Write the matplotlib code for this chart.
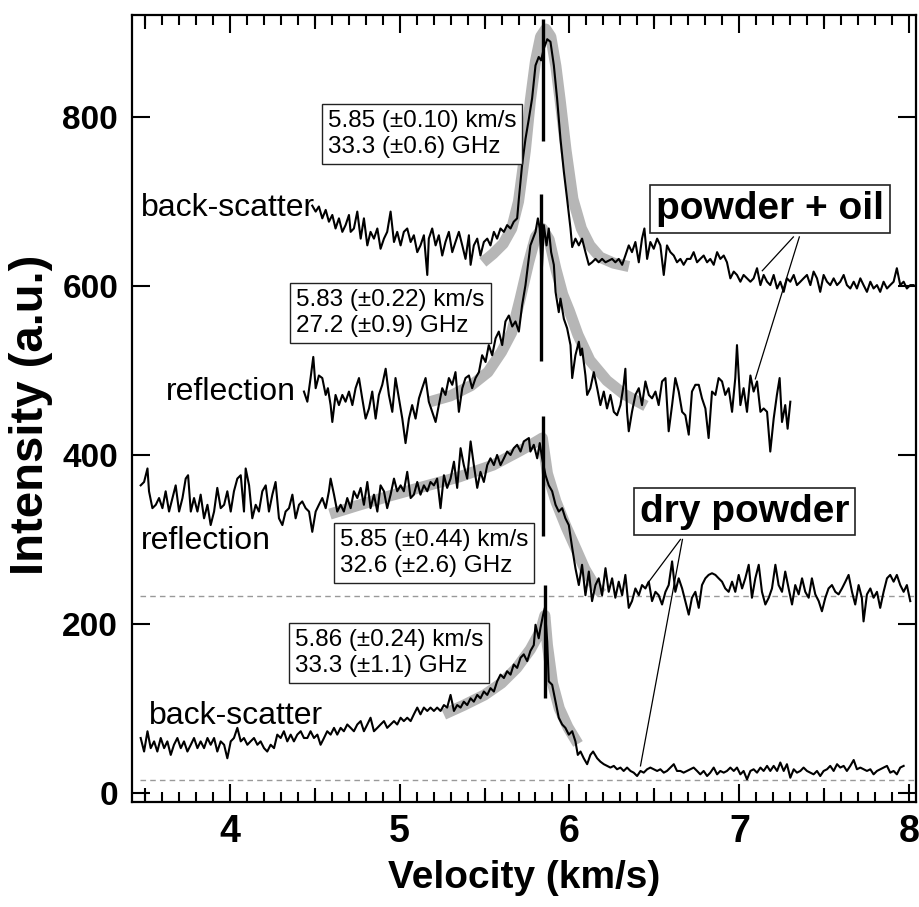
import matplotlib
matplotlib.use("Agg")
import matplotlib.pyplot as plt
from matplotlib.ticker import MultipleLocator

plt.rcParams['font.family'] = ['Liberation Sans', 'DejaVu Sans']

# powder + oil, back-scatter
v_oil_bs = [4.486, 4.506, 4.525, 4.545, 4.565, 4.584, 4.604, 4.623, 4.643, 4.663,
            4.682, 4.702, 4.712, 4.731, 4.751, 4.771, 4.790, 4.810, 4.829, 4.849,
            4.869, 4.888, 4.908, 4.927, 4.947, 4.967, 4.986, 5.006, 5.025, 5.045,
            5.065, 5.084, 5.104, 5.123, 5.143, 5.163, 5.172, 5.192, 5.212, 5.231,
            5.251, 5.270, 5.290, 5.310, 5.329, 5.349, 5.369, 5.388, 5.408, 5.418,
            5.437, 5.457, 5.476, 5.496, 5.516, 5.535, 5.555, 5.574, 5.594, 5.614,
            5.633, 5.653, 5.672, 5.692, 5.702, 5.721, 5.741, 5.761, 5.780, 5.800,
            5.819, 5.833, 5.849, 5.869, 5.888, 5.908, 5.927, 5.947, 5.967, 5.986,
            6.006, 6.016, 6.035, 6.055, 6.074, 6.094, 6.114, 6.133, 6.153, 6.172,
            6.192, 6.212, 6.231, 6.251, 6.270, 6.290, 6.310, 6.329, 6.349, 6.368,
            6.388, 6.408, 6.427, 6.441, 6.457, 6.476, 6.496, 6.516, 6.535, 6.555,
            6.574, 6.594, 6.614, 6.633, 6.653, 6.672, 6.692, 6.712, 6.731, 6.751,
            6.770, 6.790, 6.810, 6.829, 6.849, 6.869, 6.888, 6.908, 6.927, 6.947,
            6.967, 6.986, 7.006, 7.025, 7.045, 7.065, 7.084, 7.104, 7.124, 7.143,
            7.163, 7.182, 7.202, 7.222, 7.241, 7.261, 7.280, 7.300, 7.320, 7.339,
            7.359, 7.378, 7.398, 7.418, 7.437, 7.457, 7.476, 7.496, 7.516, 7.535,
            7.555, 7.575, 7.594, 7.614, 7.633, 7.653, 7.673, 7.692, 7.712, 7.731,
            7.751, 7.771, 7.790, 7.810, 7.829, 7.849, 7.869, 7.888, 7.908, 7.927,
            7.947, 7.967, 7.986, 8.006, 8.025]
i_oil_bs = [695, 688, 694, 680, 690, 676, 684, 668, 680, 664,
            672, 684, 664, 668, 688, 656, 680, 648, 664, 656,
            668, 644, 656, 664, 688, 652, 664, 648, 664, 668,
            652, 660, 640, 648, 660, 613, 656, 668, 648, 660,
            636, 652, 664, 640, 652, 664, 648, 632, 660, 625,
            648, 656, 636, 652, 656, 648, 664, 656, 668, 664,
            672, 668, 676, 680, 703, 743, 774, 798, 822, 861,
            871, 867, 881, 892, 889, 861, 822, 774, 735, 703,
            668, 646, 656, 648, 656, 640, 625, 628, 632, 628,
            632, 628, 630, 632, 628, 632, 625, 636, 648, 640,
            652, 628, 656, 668, 632, 652, 644, 656, 648, 613,
            648, 640, 636, 628, 632, 625, 632, 632, 640, 628,
            632, 636, 628, 632, 625, 640, 632, 636, 628, 609,
            617, 613, 605, 613, 609, 605, 609, 621, 601, 613,
            605, 601, 613, 597, 605, 593, 609, 605, 613, 601,
            605, 609, 613, 601, 617, 609, 593, 613, 605, 601,
            609, 601, 605, 613, 601, 597, 605, 597, 609, 601,
            593, 605, 597, 601, 593, 605, 597, 601, 605, 621,
            601, 605, 597, 601, 601]

# powder + oil, reflection
v_oil_rf = [4.437, 4.457, 4.476, 4.492, 4.506, 4.525, 4.545, 4.565, 4.578, 4.594,
            4.604, 4.623, 4.643, 4.663, 4.682, 4.702, 4.722, 4.741, 4.761, 4.780,
            4.800, 4.820, 4.839, 4.859, 4.878, 4.898, 4.918, 4.937, 4.957, 4.976,
            4.996, 5.016, 5.035, 5.055, 5.074, 5.094, 5.114, 5.133, 5.153, 5.172,
            5.192, 5.212, 5.231, 5.251, 5.270, 5.290, 5.310, 5.329, 5.349, 5.369,
            5.388, 5.408, 5.427, 5.447, 5.467, 5.486, 5.506, 5.525, 5.545, 5.565,
            5.584, 5.604, 5.623, 5.643, 5.663, 5.682, 5.702, 5.721, 5.741, 5.770,
            5.800, 5.814, 5.825, 5.837, 5.849, 5.865, 5.878, 5.892, 5.908, 5.918,
            5.937, 5.947, 5.967, 5.986, 6.006, 6.016, 6.035, 6.055, 6.065, 6.074,
            6.094, 6.104, 6.123, 6.143, 6.163, 6.182, 6.202, 6.221, 6.241, 6.261,
            6.280, 6.300, 6.319, 6.329, 6.339, 6.349, 6.368, 6.388, 6.408, 6.427,
            6.447, 6.467, 6.486, 6.506, 6.525, 6.545, 6.565, 6.584, 6.604, 6.623,
            6.643, 6.663, 6.682, 6.702, 6.721, 6.741, 6.761, 6.780, 6.800, 6.819,
            6.839, 6.859, 6.878, 6.898, 6.917, 6.937, 6.957, 6.976, 6.986, 7.006,
            7.025, 7.045, 7.065, 7.084, 7.104, 7.124, 7.143, 7.163, 7.182, 7.202,
            7.221, 7.237, 7.251, 7.270, 7.284, 7.300]
i_oil_rf = [475, 463, 491, 516, 479, 494, 491, 471, 479, 459,
            439, 471, 459, 471, 463, 475, 459, 479, 491, 467,
            443, 455, 475, 443, 471, 483, 502, 471, 451, 491,
            467, 443, 414, 443, 459, 443, 467, 479, 491, 463,
            451, 439, 459, 479, 471, 491, 483, 498, 451, 479,
            491, 494, 479, 491, 498, 518, 510, 530, 518, 538,
            546, 530, 558, 565, 552, 558, 546, 577, 601, 648,
            664, 680, 668, 617, 672, 648, 668, 640, 625, 593,
            569, 585, 561, 550, 530, 491, 518, 534, 518, 526,
            494, 471, 479, 498, 479, 459, 475, 455, 471, 451,
            447, 459, 483, 502, 451, 428, 451, 471, 479, 459,
            487, 471, 467, 475, 459, 487, 491, 428, 459, 491,
            475, 451, 447, 424, 475, 483, 483, 467, 455, 420,
            475, 471, 491, 487, 471, 479, 451, 491, 530, 459,
            479, 451, 494, 475, 487, 451, 455, 451, 404, 443,
            471, 491, 439, 459, 431, 463]

# dry powder, reflection
v_dry_rf = [3.476, 3.496, 3.516, 3.525, 3.545, 3.565, 3.584, 3.604, 3.623, 3.643,
            3.663, 3.682, 3.702, 3.722, 3.741, 3.755, 3.771, 3.790, 3.810, 3.829,
            3.849, 3.869, 3.888, 3.908, 3.927, 3.947, 3.967, 3.986, 4.006, 4.025,
            4.045, 4.065, 4.084, 4.094, 4.114, 4.133, 4.153, 4.172, 4.192, 4.212,
            4.231, 4.251, 4.270, 4.290, 4.310, 4.329, 4.349, 4.369, 4.388, 4.408,
            4.427, 4.447, 4.467, 4.486, 4.506, 4.525, 4.545, 4.565, 4.584, 4.594,
            4.614, 4.633, 4.653, 4.672, 4.692, 4.712, 4.731, 4.751, 4.771, 4.790,
            4.810, 4.829, 4.849, 4.869, 4.888, 4.908, 4.927, 4.947, 4.967, 4.986,
            5.006, 5.025, 5.045, 5.065, 5.084, 5.104, 5.123, 5.143, 5.163, 5.182,
            5.202, 5.221, 5.241, 5.261, 5.280, 5.300, 5.320, 5.339, 5.359, 5.378,
            5.398, 5.418, 5.437, 5.457, 5.476, 5.496, 5.516, 5.535, 5.555, 5.574,
            5.594, 5.614, 5.633, 5.653, 5.672, 5.692, 5.712, 5.731, 5.761, 5.770,
            5.790, 5.810, 5.825, 5.839, 5.859, 5.878, 5.898, 5.918, 5.937, 5.957,
            5.976, 5.996, 6.016, 6.035, 6.055, 6.074, 6.094, 6.114, 6.133, 6.153,
            6.172, 6.192, 6.212, 6.231, 6.251, 6.270, 6.290, 6.310, 6.329, 6.349,
            6.368, 6.388, 6.408, 6.427, 6.447, 6.467, 6.486, 6.506, 6.525, 6.545,
            6.565, 6.584, 6.604, 6.623, 6.643, 6.663, 6.682, 6.702, 6.721, 6.741,
            6.761, 6.780, 6.800, 6.819, 6.839, 6.859, 6.878, 6.898, 6.917, 6.937,
            6.957, 6.976, 6.996, 7.016, 7.035, 7.055, 7.074, 7.094, 7.114, 7.133,
            7.153, 7.173, 7.192, 7.212, 7.231, 7.251, 7.270, 7.290, 7.310, 7.329,
            7.349, 7.369, 7.388, 7.408, 7.427, 7.447, 7.467, 7.486, 7.506, 7.525,
            7.545, 7.565, 7.584, 7.604, 7.624, 7.643, 7.663, 7.682, 7.702, 7.721,
            7.731, 7.751, 7.771, 7.790, 7.810, 7.829, 7.849, 7.869, 7.888, 7.908,
            7.927, 7.947, 7.967, 7.986, 8.006]
i_dry_rf = [364, 368, 384, 357, 337, 341, 349, 337, 357, 333,
            349, 364, 333, 349, 372, 376, 333, 349, 333, 353,
            325, 341, 317, 333, 361, 337, 341, 357, 333, 357,
            372, 376, 333, 384, 364, 325, 341, 333, 357, 364,
            333, 353, 368, 325, 317, 333, 337, 353, 325, 341,
            345, 337, 333, 309, 333, 341, 349, 337, 357, 372,
            353, 333, 341, 333, 349, 337, 357, 349, 361, 341,
            368, 337, 353, 333, 364, 357, 337, 353, 372, 357,
            364, 357, 380, 349, 353, 368, 353, 364, 357, 368,
            364, 372, 337, 376, 361, 372, 392, 361, 408, 388,
            372, 416, 388, 361, 380, 368, 388, 396, 388, 400,
            388, 396, 404, 400, 408, 412, 404, 416, 420, 404,
            412, 396, 414, 396, 376, 364, 357, 341, 333, 337,
            325, 317, 290, 266, 246, 270, 234, 262, 227, 246,
            254, 234, 266, 238, 254, 231, 250, 234, 258, 219,
            227, 242, 234, 246, 242, 250, 227, 238, 234, 223,
            238, 246, 274, 238, 254, 242, 227, 211, 231, 238,
            219, 246, 254, 258, 260, 258, 254, 250, 242, 238,
            250, 238, 258, 242, 254, 270, 231, 254, 270, 238,
            223, 231, 242, 270, 246, 238, 262, 242, 223, 246,
            235, 254, 238, 231, 254, 235, 227, 215, 231, 242,
            246, 238, 235, 242, 250, 258, 238, 223, 246, 231,
            203, 235, 242, 231, 238, 219, 238, 254, 258, 250,
            258, 246, 238, 246, 227]

# dry powder, back-scatter
v_dry_bs = [3.476, 3.496, 3.516, 3.535, 3.555, 3.574, 3.594, 3.614, 3.633, 3.653,
            3.672, 3.692, 3.712, 3.731, 3.751, 3.771, 3.790, 3.810, 3.829, 3.849,
            3.869, 3.888, 3.908, 3.927, 3.947, 3.967, 3.986, 4.006, 4.025, 4.045,
            4.065, 4.084, 4.104, 4.123, 4.143, 4.163, 4.182, 4.202, 4.221, 4.241,
            4.261, 4.280, 4.300, 4.319, 4.339, 4.359, 4.378, 4.398, 4.418, 4.437,
            4.457, 4.476, 4.496, 4.516, 4.535, 4.555, 4.574, 4.594, 4.614, 4.633,
            4.653, 4.672, 4.692, 4.712, 4.731, 4.751, 4.771, 4.790, 4.810, 4.829,
            4.849, 4.869, 4.888, 4.908, 4.927, 4.947, 4.967, 4.986, 5.006, 5.025,
            5.045, 5.065, 5.084, 5.104, 5.123, 5.143, 5.163, 5.182, 5.202, 5.221,
            5.241, 5.261, 5.280, 5.300, 5.320, 5.339, 5.359, 5.378, 5.398, 5.418,
            5.437, 5.457, 5.476, 5.496, 5.516, 5.535, 5.555, 5.574, 5.594, 5.614,
            5.633, 5.653, 5.672, 5.692, 5.712, 5.731, 5.751, 5.770, 5.790, 5.800,
            5.819, 5.829, 5.845, 5.855, 5.869, 5.878, 5.898, 5.918, 5.937, 5.957,
            5.976, 5.996, 6.016, 6.035, 6.049, 6.065, 6.084, 6.104, 6.123, 6.139,
            6.163, 6.182, 6.202, 6.221, 6.241, 6.261, 6.280, 6.300, 6.319, 6.339,
            6.359, 6.378, 6.398, 6.418, 6.437, 6.457, 6.476, 6.496, 6.516, 6.535,
            6.555, 6.574, 6.594, 6.614, 6.633, 6.653, 6.672, 6.692, 6.712, 6.731,
            6.751, 6.770, 6.790, 6.810, 6.829, 6.849, 6.869, 6.888, 6.908, 6.927,
            6.947, 6.967, 6.986, 7.006, 7.025, 7.045, 7.065, 7.084, 7.104, 7.124,
            7.143, 7.163, 7.182, 7.202, 7.222, 7.241, 7.261, 7.280, 7.300, 7.320,
            7.339, 7.359, 7.378, 7.398, 7.418, 7.437, 7.457, 7.476, 7.496, 7.516,
            7.535, 7.555, 7.575, 7.594, 7.614, 7.633, 7.653, 7.673, 7.692, 7.712,
            7.731, 7.751, 7.771, 7.790, 7.810, 7.829, 7.849, 7.869, 7.888, 7.908,
            7.927, 7.947, 7.967]
i_dry_bs = [65, 49, 73, 53, 61, 49, 65, 53, 61, 45,
            57, 65, 53, 61, 49, 57, 65, 53, 61, 53,
            65, 57, 65, 49, 61, 57, 41, 61, 65, 77,
            61, 65, 57, 61, 65, 57, 61, 53, 49, 57,
            53, 69, 65, 73, 61, 69, 61, 69, 73, 65,
            65, 73, 65, 69, 57, 65, 73, 69, 77, 69,
            77, 73, 81, 77, 73, 81, 85, 73, 81, 89,
            73, 77, 81, 85, 77, 81, 85, 81, 89, 85,
            89, 85, 93, 101, 93, 101, 97, 101, 97, 101,
            97, 104, 101, 116, 97, 104, 101, 108, 104, 112,
            108, 116, 112, 120, 116, 124, 120, 132, 140, 136,
            144, 140, 152, 148, 160, 164, 156, 168, 175, 199,
            183, 195, 211, 219, 179, 132, 128, 108, 89, 81,
            77, 69, 73, 61, 45, 49, 41, 34, 45, 49,
            41, 37, 34, 32, 30, 32, 28, 30, 26, 30,
            26, 24, 20, 26, 24, 28, 30, 28, 26, 28,
            24, 26, 30, 34, 26, 26, 24, 26, 28, 30,
            26, 22, 26, 20, 24, 30, 22, 26, 24, 26,
            30, 26, 30, 22, 26, 16, 26, 28, 24, 30,
            26, 32, 26, 32, 26, 36, 26, 34, 18, 28,
            24, 26, 30, 26, 24, 22, 26, 20, 26, 28,
            32, 26, 34, 30, 32, 26, 32, 39, 28, 30,
            28, 26, 28, 22, 26, 28, 30, 32, 24, 26,
            22, 30, 32]

# fitted peak shapes (grey bands)
fit_v_oil_bs = [5.49, 5.55, 5.61, 5.66, 5.70, 5.74, 5.77, 5.80, 5.83, 5.86,
                5.89, 5.92, 5.945, 5.98, 6.02, 6.07, 6.12, 6.18, 6.26, 6.35]
fit_i_oil_bs = [628, 638, 650, 668, 700, 760, 820, 866, 895, 904,
                895, 860, 820, 760, 703, 668, 648, 634, 627, 623]
fit_v_oil_rf = [5.18, 5.30, 5.42, 5.52, 5.60, 5.66, 5.71, 5.76, 5.80, 5.84,
                5.88, 5.92, 5.96, 6.00, 6.05, 6.12, 6.22, 6.32, 6.45]
fit_i_oil_rf = [463, 470, 482, 498, 522, 545, 585, 628, 658, 668,
                655, 620, 590, 570, 542, 512, 488, 472, 458]
fit_v_dry_rf = [4.59, 4.75, 4.95, 5.15, 5.35, 5.55, 5.70, 5.79, 5.84, 5.87,
                5.92, 5.98, 6.04, 6.09, 6.14, 6.19]
fit_i_dry_rf = [330, 340, 352, 363, 374, 388, 404, 414, 420, 378,
                345, 315, 288, 265, 248, 236]
fit_v_dry_bs = [5.26, 5.38, 5.50, 5.60, 5.69, 5.77, 5.83, 5.855, 5.87, 5.90,
                5.94, 5.99, 6.05]
fit_i_dry_bs = [93, 104, 116, 130, 148, 170, 192, 210, 175, 130,
                100, 78, 58]

# peak markers: velocity, bottom, top
peak_v = [5.847, 5.835, 5.847, 5.856]
peak_lo = [772, 511, 304, 112]
peak_hi = [916, 709, 446, 246]

baselines = [233, 15]

fit_labels = ["5.85 (\u00b10.10) km/s\n33.3 (\u00b10.6) GHz",
              "5.83 (\u00b10.22) km/s\n27.2 (\u00b10.9) GHz",
              "5.85 (\u00b10.44) km/s\n32.6 (\u00b12.6) GHz",
              "5.86 (\u00b10.24) km/s\n33.3 (\u00b11.1) GHz"]
fit_label_pos = [(5.132, 780), (4.947, 568), (5.203, 284), (4.938, 166)]

trace_names = ["back-scatter", "reflection", "reflection", "back-scatter"]
trace_name_pos = [(3.476, 692), (3.624, 475), (3.476, 298), (3.524, 91)]

fig = plt.figure(figsize=(9.2, 9.07), dpi=100)
ax = fig.add_axes([0.1435, 0.1158, 0.8522, 0.8677])

for y0 in baselines:
    ax.plot([3.47, 8.04], [y0, y0], ls=(0, (4, 3)), color='#999999', lw=1.0, zorder=1)

grey = '#b6b6b6'
for fv, fi in [(fit_v_oil_bs, fit_i_oil_bs), (fit_v_oil_rf, fit_i_oil_rf),
               (fit_v_dry_rf, fit_i_dry_rf), (fit_v_dry_bs, fit_i_dry_bs)]:
    ax.plot(fv, fi, color=grey, lw=8, solid_capstyle='butt', solid_joinstyle='round', zorder=2)

for v, i in [(v_oil_bs, i_oil_bs), (v_oil_rf, i_oil_rf),
             (v_dry_rf, i_dry_rf), (v_dry_bs, i_dry_bs)]:
    ax.plot(v, i, color='black', lw=1.5, zorder=3)

ax.vlines(peak_v, peak_lo, peak_hi, color='black', lw=2.4, zorder=4)

for txt, (x, y) in zip(fit_labels, fit_label_pos):
    ax.text(x, y, txt, ha='center', va='center', multialignment='left',
            fontsize=17.5, linespacing=1.22, zorder=5,
            bbox=dict(boxstyle='square,pad=0.25', fc='white', ec='#222222', lw=1.0))

for txt, (x, y) in zip(trace_names, trace_name_pos):
    ax.text(x, y, txt, ha='left', va='center', fontsize=23, zorder=5)

# group labels with leader lines
ax.plot([7.318, 7.135], [658, 618], color='black', lw=0.9, zorder=4)
ax.plot([7.353, 7.094], [658, 490], color='black', lw=0.9, zorder=4)
ax.plot([6.653, 6.460], [300, 248], color='black', lw=0.9, zorder=4)
ax.plot([6.665, 6.418], [300, 32], color='black', lw=0.9, zorder=4)
ax.text(7.179, 691, "powder + oil", ha='center', va='center', fontsize=28,
        fontweight='bold', zorder=5,
        bbox=dict(boxstyle='square,pad=0.15', fc='white', ec='#222222', lw=1.2))
ax.text(7.029, 333, "dry powder", ha='center', va='center', fontsize=28,
        fontweight='bold', zorder=5,
        bbox=dict(boxstyle='square,pad=0.15', fc='white', ec='#222222', lw=1.2))

ax.set_xlim(3.425, 8.04)
ax.set_ylim(-10.7, 920.7)
ax.set_xticks([4, 5, 6, 7, 8])
ax.xaxis.set_minor_locator(MultipleLocator(0.1))
ax.set_yticks([0, 200, 400, 600, 800])
ax.tick_params(axis='both', which='major', direction='in', top=True, right=True,
               length=13, width=1.5)
ax.tick_params(axis='x', which='minor', direction='in', top=True, bottom=True,
               length=7, width=1.5)
ax.tick_params(axis='x', which='major', labelsize=27, pad=9)
ax.tick_params(axis='y', which='major', labelsize=24, pad=10)
for lab in ax.get_xticklabels() + ax.get_yticklabels():
    lab.set_fontweight('bold')
for s in ax.spines.values():
    s.set_linewidth(1.6)

# half-unit ticks on top and bottom
for loc in ('top', 'bottom'):
    sec = ax.secondary_xaxis(loc)
    sec.set_xticks([3.5, 4.5, 5.5, 6.5, 7.5])
    sec.tick_params(direction='in', length=10, width=1.5,
                    labelbottom=False, labeltop=False)
    for s in sec.spines.values():
        s.set_visible(False)

fig.text(524 / 920, 1 - 878 / 907, "Velocity (km/s)", ha='center', va='center',
         fontsize=28, fontweight='bold')
fig.text(31 / 920, 1 - 415 / 907, "Intensity (a.u.)", ha='center', va='center',
         rotation=90, fontsize=34, fontweight='bold')

fig.savefig("out.png", dpi=100)
